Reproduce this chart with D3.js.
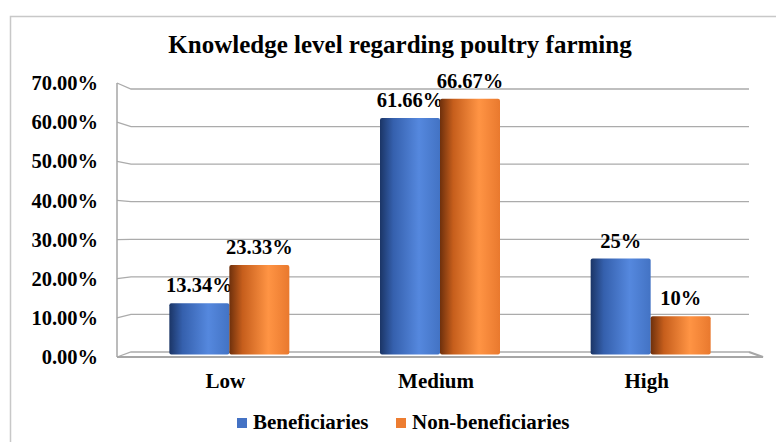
<!DOCTYPE html>
<html>
<head>
<meta charset="utf-8">
<script src="https://cdn.jsdelivr.net/npm/d3@7"></script>
<style>
  body { margin: 0; background: #fff; }
  text { font-family: "Liberation Serif", "Times New Roman", serif; font-weight: bold; fill: #000; }
</style>
</head>
<body>
<div class="chart"></div>
<script>
const width = 776, height = 442;

const categories = ["Low", "Medium", "High"];
const series = ["Beneficiaries", "Non-beneficiaries"];
const beneficiaries = [13.34, 61.66, 25];
const nonBeneficiaries = [23.33, 66.67, 10];
const beneficiaryLabels = ["13.34%", "61.66%", "25%"];
const nonBeneficiaryLabels = ["23.33%", "66.67%", "10%"];
const yTicks = [0, 10, 20, 30, 40, 50, 60, 70];
const yTickLabels = ["0.00%", "10.00%", "20.00%", "30.00%", "40.00%", "50.00%", "60.00%", "70.00%"];

const svg = d3.select(".chart").append("svg")
  .attr("width", width)
  .attr("height", height);

// gradients for the cylinder look
const defs = svg.append("defs");
function addGradient(id, stops) {
  const g = defs.append("linearGradient")
    .attr("id", id)
    .attr("x1", "0%").attr("x2", "100%")
    .attr("y1", "0%").attr("y2", "0%");
  stops.forEach(s => g.append("stop").attr("offset", s[0]).attr("stop-color", s[1]));
}
addGradient("gBlue", [["0%", "#1b3566"], ["22%", "#3560ad"], ["65%", "#5588de"], ["100%", "#4373c4"]]);
addGradient("gOrange", [["0%", "#6e300c"], ["22%", "#c65e1c"], ["65%", "#ff9444"], ["100%", "#e9792e"]]);
const fills = { "Beneficiaries": "url(#gBlue)", "Non-beneficiaries": "url(#gOrange)" };
const legendColors = { "Beneficiaries": "#4472c4", "Non-beneficiaries": "#ed7d31" };

// outer frame
svg.append("path")
  .attr("d", "M10.5," + height + " V16.5 H" + width)
  .attr("fill", "none")
  .attr("stroke", "#c8c8c8")
  .attr("stroke-width", 1.5);

// title
svg.append("text")
  .attr("x", 400)
  .attr("y", 53)
  .attr("text-anchor", "middle")
  .style("font-size", "25px")
  .text("Knowledge level regarding poultry farming");

// scales: front edge, back wall and bar depth
const yFront = d3.scaleLinear().domain([0, 70]).range([357, 83]);
const yBack = d3.scaleLinear().domain([0, 70]).range([352, 89]);
const yMid = d3.scaleLinear().domain([0, 70]).range([354.5, 86]);
const xFrontL = 117, xBackL = 131, xBackR = 749, xFrontR = 763;

const x0 = d3.scaleBand().domain(categories).range([124, 756]);
const x1 = d3.scaleBand().domain(series).range([0, 120]);

// gridlines
yTicks.forEach(t => {
  svg.append("path")
    .attr("d", "M" + xFrontL + "," + yFront(t) + " L" + xBackL + "," + yBack(t) + " L" + xBackR + "," + yBack(t))
    .attr("fill", "none")
    .attr("stroke", "#ababab")
    .attr("stroke-width", 1.3);
});

// left wall edge and floor
svg.append("path")
  .attr("d", "M" + xFrontL + "," + yFront(70) + " L" + xFrontL + "," + yFront(0))
  .attr("stroke", "#a6a6a6")
  .attr("stroke-width", 1.5);
svg.append("path")
  .attr("d", "M" + xFrontL + "," + yFront(0) + " L" + xFrontR + "," + yFront(0) + " L" + xBackR + "," + yBack(0))
  .attr("fill", "none")
  .attr("stroke", "#a6a6a6")
  .attr("stroke-width", 2);

// y tick labels
yTicks.forEach((t, i) => {
  svg.append("text")
    .attr("x", 98)
    .attr("y", yFront(t))
    .attr("dy", "0.35em")
    .attr("text-anchor", "end")
    .style("font-size", "20.5px")
    .text(yTickLabels[i]);
});

// bars (labels first so the next bar can overlap them, as in the original)
const seriesData = [
  { name: "Beneficiaries", values: beneficiaries, labels: beneficiaryLabels },
  { name: "Non-beneficiaries", values: nonBeneficiaries, labels: nonBeneficiaryLabels }
];
seriesData.forEach(s => {
  categories.forEach((c, i) => {
    const bx = x0(c) + x0.bandwidth() / 2 - 60 + x1(s.name);
    const v = s.values[i];
    svg.append("text")
      .attr("x", bx + x1.bandwidth() / 2)
      .attr("y", yMid(v) - 11)
      .attr("text-anchor", "middle")
      .style("font-size", "20.5px")
      .text(s.labels[i]);
    svg.append("rect")
      .attr("x", bx)
      .attr("y", yMid(v))
      .attr("width", x1.bandwidth())
      .attr("height", yMid(0) - yMid(v))
      .attr("rx", 2)
      .attr("fill", fills[s.name]);
  });
});

// category labels
categories.forEach(c => {
  svg.append("text")
    .attr("x", x0(c) + x0.bandwidth() / 2 - 4)
    .attr("y", 388)
    .attr("text-anchor", "middle")
    .style("font-size", "21px")
    .text(c);
});

// legend
const legendX = [237, 396];
series.forEach((s, i) => {
  svg.append("rect")
    .attr("x", legendX[i])
    .attr("y", 418)
    .attr("width", 10)
    .attr("height", 10)
    .attr("fill", legendColors[s]);
  svg.append("text")
    .attr("x", legendX[i] + 16)
    .attr("y", 429)
    .style("font-size", "21px")
    .text(s);
});
</script>
</body>
</html>
